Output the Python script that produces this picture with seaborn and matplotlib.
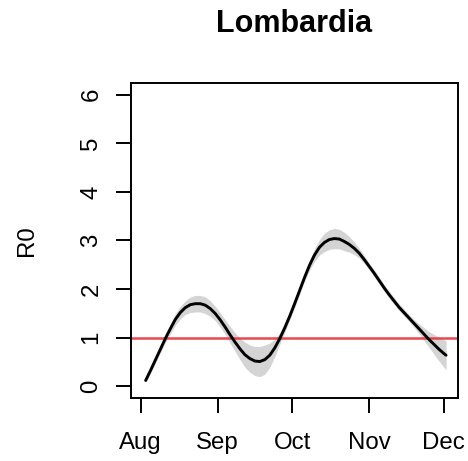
import numpy as np
import pandas as pd
import matplotlib
matplotlib.use("Agg")
import matplotlib.pyplot as plt
import seaborn as sns

# Estimated reproduction number for Lombardia, days counted from 1 August 2020
days = [2, 4, 6, 8, 10, 12, 14, 16, 18, 20, 22, 24, 26, 28, 30, 32, 34, 36, 38, 40,
        42, 44, 46, 48, 50, 52, 54, 56, 58, 60, 62, 64, 66, 68, 70, 72, 74, 76, 78,
        80, 82, 84, 86, 88, 90, 92, 94, 96, 98, 100, 102, 104, 106, 108, 110, 112,
        114, 116, 118, 120, 122, 123]
r0 = [0.12, 0.33, 0.55, 0.77, 0.99, 1.19, 1.38, 1.52, 1.62, 1.68, 1.70, 1.70, 1.67,
      1.60, 1.50, 1.37, 1.22, 1.06, 0.91, 0.77, 0.65, 0.57, 0.52, 0.51, 0.55, 0.64,
      0.79, 0.98, 1.20, 1.44, 1.70, 1.97, 2.24, 2.49, 2.70, 2.86, 2.96, 3.02, 3.04,
      3.03, 2.98, 2.92, 2.84, 2.74, 2.61, 2.47, 2.33, 2.18, 2.03, 1.89, 1.76, 1.63,
      1.52, 1.41, 1.30, 1.19, 1.08, 0.97, 0.87, 0.77, 0.68, 0.64]
# half width of the credible interval around each estimate
ci_half = [0.04, 0.05, 0.06, 0.07, 0.08, 0.10, 0.12, 0.13, 0.14, 0.16, 0.17, 0.17, 0.17,
           0.16, 0.15, 0.15, 0.15, 0.17, 0.19, 0.22, 0.26, 0.28, 0.30, 0.31, 0.30, 0.25,
           0.18, 0.12, 0.09, 0.08, 0.08, 0.08, 0.08, 0.10, 0.13, 0.16, 0.19, 0.20, 0.21,
           0.20, 0.19, 0.16, 0.13, 0.10, 0.08, 0.07, 0.07, 0.07, 0.07, 0.07, 0.07, 0.07,
           0.07, 0.07, 0.08, 0.10, 0.13, 0.16, 0.20, 0.24, 0.28, 0.30]

month_labels = ["Aug", "Sep", "Oct", "Nov", "Dec"]
month_starts = ["2020-08-01", "2020-09-01", "2020-10-01", "2020-11-01", "2020-12-01"]
y_ticks = [0, 1, 2, 3, 4, 5, 6]
threshold = 1.0

start = pd.Timestamp("2020-08-01")
df = pd.DataFrame({
    "date": start + pd.to_timedelta(days, unit="D"),
    "R0": r0,
    "half": ci_half,
})
df["low"] = df["R0"] - df["half"]
df["high"] = df["R0"] + df["half"]

sns.set_style("ticks")
plt.rcParams["font.family"] = ["Liberation Sans", "DejaVu Sans"]
plt.rcParams["text.color"] = "black"
plt.rcParams["axes.labelcolor"] = "black"
plt.rcParams["xtick.color"] = "black"
plt.rcParams["ytick.color"] = "black"

fig = plt.figure(figsize=(4.68, 4.61), dpi=100)
ax = fig.add_axes([130.5 / 468, 1 - 398 / 461, (458 - 130.5) / 468, (398 - 83) / 461])

ax.fill_between(df["date"], df["low"], df["high"], color="#d4d4d4", lw=0, zorder=1)
sns.lineplot(data=df, x="date", y="R0", color="black", lw=2.1, ax=ax, zorder=3)
ax.axhline(threshold, color="#e6343d", lw=1.8, alpha=0.9, zorder=2)

ax.set_xlim(start - pd.Timedelta(days=4.1), start + pd.Timedelta(days=127.8))
ax.set_ylim(-0.24, 6.24)

ax.set_xticks(pd.to_datetime(month_starts))
ax.set_xticklabels(month_labels)
ax.set_yticks(y_ticks)
ax.set_yticklabels([str(v) for v in y_ticks], rotation=90, va="center")

for side in ["left", "right", "top", "bottom"]:
    ax.spines[side].set_visible(True)
    ax.spines[side].set_linewidth(1.4)
    ax.spines[side].set_color("black")

ax.tick_params(axis="both", direction="out", length=10.8, width=1.4, color="black",
               labelsize=17.3, labelcolor="black")
ax.tick_params(axis="x", pad=13.5)
ax.tick_params(axis="y", pad=9.5)

ax.set_xlabel("")
ax.set_ylabel("R0", fontsize=17.3, color="black")
ax.yaxis.set_label_coords(-0.2824, 0.5)
ax.set_title("Lombardia", fontsize=22, fontweight="bold", pad=37, color="black")

fig.savefig("out.png", dpi=100, facecolor="white")
